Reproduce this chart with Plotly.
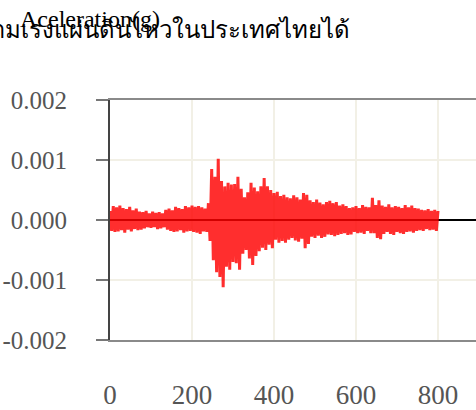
import plotly.graph_objects as go

# Sample times (s) – one reading every 4 s
time_s = list(range(0, 801, 4))

# Ground acceleration in micro-g, alternating peaks of the record
accel_ug = [
    150, -180, 230, -200, 210, -190, 240, -170, 200, -210,
    180, -160, 220, -190, 160, -150, 190, -170, 140, -160,
    130, -140, 150, -120, 110, -130, 140, -120, 120, -150,
    130, -140, 110, -120, 170, -160, 190, -180, 160, -200,
    220, -190, 200, -170, 180, -210, 230, -190, 210, -180,
    240, -200, 220, -210, 230, -230, 210, -190, 190, -200,
    280, -350, 850, -670, 720, -870, 1020, -950, 650, -1120,
    560, -780, 620, -830, 590, -700, 600, -720, 720, -830,
    520, -560, 380, -500, 460, -640, 620, -750, 540, -600,
    480, -520, 560, -460, 700, -500, 560, -410, 500, -470,
    450, -330, 470, -380, 400, -350, 420, -380, 380, -330,
    360, -300, 410, -340, 380, -360, 340, -310, 450, -470,
    420, -400, 330, -280, 300, -300, 340, -260, 290, -300,
    260, -280, 300, -240, 320, -250, 280, -270, 300, -250,
    240, -230, 260, -220, 230, -250, 200, -240, 210, -200,
    230, -220, 200, -210, 250, -230, 220, -180, 210, -220,
    370, -220, 250, -300, 330, -320, 240, -230, 220, -200,
    260, -230, 210, -250, 230, -200, 220, -220, 200, -230,
    250, -200, 210, -190, 240, -210, 200, -180, 190, -170,
    170, -180, 160, -150, 180, -170, 150, -160, 170, -180,
    150,
]
accel_g = [v * 1e-6 for v in accel_ug]

x_ticks = [0, 200, 400, 600, 800]
y_ticks = [0.002, 0.001, 0.0, -0.001, -0.002]
y_tick_text = ["0.002", "0.001", "0.000", "-0.001", "-0.002"]

title_text = "ความเร่งแผ่นดินไหวในประเทศไทยได้"
y_label = "Aceleration(g)"

serif = "Liberation Serif, Times New Roman, serif"

fig = go.Figure()
fig.add_trace(go.Scatter(
    x=time_s, y=accel_g, mode="lines",
    line=dict(color="rgba(255,0,0,0.82)", width=3),
    hoverinfo="skip", showlegend=False,
))

fig.update_layout(
    width=476, height=410,
    margin=dict(l=110, r=0, t=100, b=70, autoexpand=False),
    paper_bgcolor="white", plot_bgcolor="white",
    title=dict(
        text=title_text, x=350 / 476, xref="container", xanchor="right",
        y=1 - 30 / 410, yref="container", yanchor="middle",
        font=dict(family=serif, size=24, color="black"),
    ),
    annotations=[dict(
        text=y_label, xref="paper", yref="paper",
        x=(18 - 110) / 366, y=(340 - 19) / 240,
        xanchor="left", yanchor="middle", showarrow=False,
        font=dict(family=serif, size=24, color="black"),
    )],
)

fig.update_xaxes(
    range=[0, 366 / 0.41], tickvals=x_ticks, automargin=False,
    showgrid=True, gridcolor="#f2f0e6", gridwidth=1.5,
    showline=True, linecolor="#8a8a8a", linewidth=2, mirror=True,
    zeroline=False, ticks="", ticklabelstandoff=30,
    tickfont=dict(family=serif, size=27, color="#555555"),
)
fig.update_yaxes(
    range=[-0.002, 0.002], tickvals=y_ticks, ticktext=y_tick_text,
    automargin=False,
    showgrid=True, gridcolor="#f2f0e6", gridwidth=1.5,
    showline=True, linecolor="#444444", linewidth=2,
    zeroline=True, zerolinecolor="black", zerolinewidth=2,
    ticks="outside", ticklen=12, tickwidth=2, tickcolor="#777777",
    ticklabelstandoff=24,
    tickfont=dict(family=serif, size=25, color="#555555"),
)

fig.write_html("out.html")
